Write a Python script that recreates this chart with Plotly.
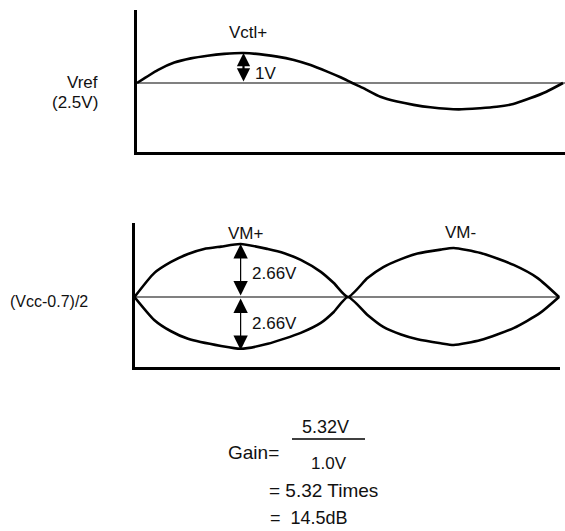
import plotly.graph_objects as go

W, H = 565, 531

# ---- data (phase in degrees, voltage deviation from reference in V) ----
ctl_phase = [0, 17.5, 31.5, 45.5, 59.6, 73.6, 90, 118.6, 132.6, 146.7, 160.8, 172, 181.9,
             191.7, 205.7, 219.8, 233.8, 247.9, 271.8, 290, 304, 318, 332, 346, 360]
ctl_volts = [0, 0.43, 0.68, 0.82, 0.91, 0.97, 1.0, 0.88, 0.77, 0.6, 0.38, 0.19, 0,
             -0.18, -0.46, -0.62, -0.73, -0.81, -0.88, -0.84, -0.79, -0.7, -0.51, -0.29, 0]

vm_up_phase = [0, 16.7, 31, 45.4, 59, 73.4, 90, 113, 127, 141, 158, 169, 181,
               197.6, 211, 226, 240, 259.7, 270.7, 293.6, 321.5, 341.9, 360]
vm_up_volts = [0, 1.2, 1.76, 2.16, 2.41, 2.53, 2.66, 2.41, 2.2, 1.86, 1.26, 0.7, 0,
               0.95, 1.5, 1.9, 2.18, 2.38, 2.46, 2.21, 1.61, 0.95, 0]

vm_lo_phase = [0, 16.7, 31, 45.4, 73.4, 90, 113, 141, 158, 169, 181,
               197.6, 211, 226, 240, 259.7, 270.7, 293.6, 321.5, 344, 360]
vm_lo_volts = [0, -1.15, -1.72, -2.1, -2.46, -2.6, -2.35, -1.8, -1.3, -0.75, 0,
               -0.9, -1.5, -1.88, -2.12, -2.32, -2.41, -2.16, -1.56, -0.8, 0]

ctl_amp = 1.0
vm_amp = 2.66
arrow_phase = 90

FONT = "Liberation Sans, Arial, Helvetica, sans-serif"
FS = 17
TXT = "#111111"

def px(x):
    return x / W

def py(y):
    return 1 - y / H

fig = go.Figure()

line_style = dict(color="black", width=2.6, shape="spline", smoothing=0.6)
fig.add_trace(go.Scatter(x=ctl_phase, y=ctl_volts, mode="lines", line=line_style,
                         xaxis="x", yaxis="y", hoverinfo="skip"))
fig.add_trace(go.Scatter(x=vm_up_phase, y=vm_up_volts, mode="lines", line=line_style,
                         xaxis="x2", yaxis="y2", hoverinfo="skip"))
fig.add_trace(go.Scatter(x=vm_lo_phase, y=vm_lo_volts, mode="lines", line=line_style,
                         xaxis="x2", yaxis="y2", hoverinfo="skip"))

ax_common = dict(showline=True, linecolor="black", linewidth=2.6, showgrid=False,
                 showticklabels=False, ticks="", fixedrange=True)

fig.update_layout(
    width=W, height=H,
    margin=dict(l=0, r=0, t=0, b=0),
    paper_bgcolor="white", plot_bgcolor="white",
    showlegend=False,
    font=dict(family=FONT, size=FS, color=TXT),
    xaxis=dict(domain=[px(137), px(565)], range=[0, 361.7], zeroline=False, anchor="y", **ax_common),
    yaxis=dict(domain=[py(152), py(10)], range=[-2.3, 2.433], zeroline=True,
               zerolinecolor="#808080", zerolinewidth=1.4, anchor="x", **ax_common),
    xaxis2=dict(domain=[px(134.5), px(560)], range=[0, 360.85], zeroline=False, anchor="y2", **ax_common),
    yaxis2=dict(domain=[py(367), py(223)], range=[-3.514, 3.715], zeroline=True,
                zerolinecolor="#808080", zerolinewidth=1.4, anchor="x2", **ax_common),
)

ann = []
# double arrows
ann.append(dict(x=arrow_phase, y=ctl_amp, ax=arrow_phase, ay=0, xref="x", yref="y",
                axref="x", ayref="y", text="", showarrow=True, arrowside="end+start",
                arrowhead=2, startarrowhead=2, arrowsize=1.2, startarrowsize=1.2,
                arrowwidth=2.2, arrowcolor="black", standoff=0, startstandoff=0))
for sgn in (1, -1):
    ann.append(dict(x=arrow_phase, y=sgn * vm_amp, ax=arrow_phase, ay=0, xref="x2", yref="y2",
                    axref="x2", ayref="y2", text="", showarrow=True, arrowside="end+start",
                    arrowhead=2, startarrowhead=2, arrowsize=2.4, startarrowsize=2.4,
                    arrowwidth=1.2, arrowcolor="black", standoff=0, startstandoff=0))

def label(text, x, y, xanchor="center", size=FS):
    ann.append(dict(text=text, x=px(x), y=py(y), xref="paper", yref="paper",
                    xanchor=xanchor, yanchor="middle", showarrow=False,
                    font=dict(family=FONT, size=size, color=TXT)))

label("Vctl+", 247.5, 33)
label("1V", 253, 73, "left")
label("Vref", 100, 82, "right")
label("(2.5V)", 99.5, 102, "right")
label("VM+", 245.5, 234)
label("VM-", 460, 232)
label("2.66V", 250, 274, "left")
label("2.66V", 250, 323, "left")
label("(Vcc-0.7)/2", 90, 301, "right", 16)
label("Gain=", 281, 452, "right", 19)
label("5.32V", 325, 427, size=18)
label("1.0V", 328.5, 463)
label("= 5.32 Times", 267, 490, "left", 19)
label("=\u00a0\u00a014.5dB", 268, 518, "left", 18)

fig.update_layout(annotations=ann)
fig.add_shape(type="line", xref="paper", yref="paper", x0=px(292), x1=px(365),
              y0=py(439), y1=py(439), line=dict(color="black", width=1.5))

fig.write_html("out.html", config={"displayModeBar": False, "staticPlot": True},
               post_script="document.body.style.margin='0';document.body.style.padding='0';document.body.style.overflow='hidden';")
